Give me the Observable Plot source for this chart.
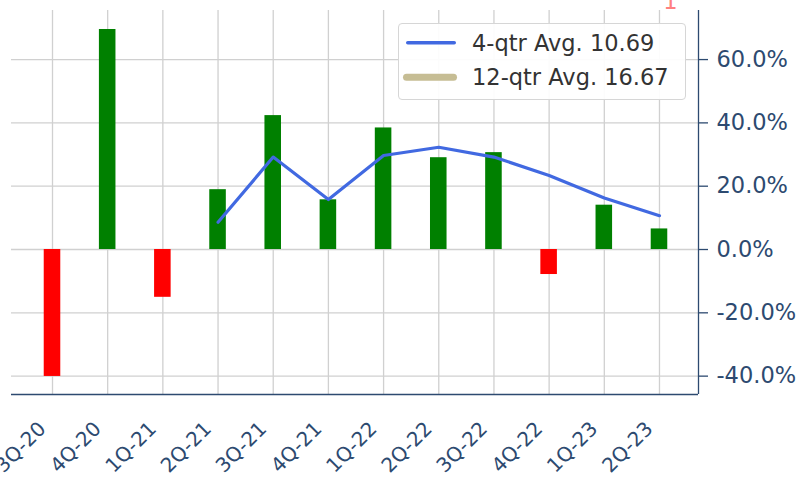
<!DOCTYPE html>
<html>
<head>
<meta charset="utf-8">
<script src="https://cdn.jsdelivr.net/npm/d3@7"></script>
<script src="https://cdn.jsdelivr.net/npm/@observablehq/plot@0.6"></script>
<style>
  html, body { margin: 0; padding: 0; background: #fff; }
  #wrap { position: relative; width: 798px; height: 479px; overflow: hidden; font-family: "DejaVu Sans", sans-serif; }
  #legend { position: absolute; left: 398px; top: 23px; width: 288px; height: 77px; background: rgba(255,255,255,0.92);
            border: 1px solid #d6d6d6; border-radius: 4px; box-sizing: border-box; }
  #legend svg { position: absolute; left: 0; top: 0; }
  .lg-text { position: absolute; left: 73px; font-size: 22.5px; line-height: 26px; color: #333; white-space: nowrap; }
</style>
</head>
<body>
<div id="wrap">
  <div id="chart"></div>
  <div id="legend">
    <svg width="70" height="75">
      <line x1="8.75" x2="55.25" y1="18.7" y2="18.7" stroke="#4169e1" stroke-width="3.5" stroke-linecap="round"/>
      <line x1="7.5" x2="54.5" y1="53.3" y2="53.3" stroke="#c6bd94" stroke-width="7" stroke-linecap="round"/>
    </svg>
    <div class="lg-text" style="top:5.7px">4-qtr Avg. 10.69</div>
    <div class="lg-text" style="top:40.3px">12-qtr Avg. 16.67</div>
  </div>
</div>
<script>
const quarters = ["3Q-20","4Q-20","1Q-21","2Q-21","3Q-21","4Q-21","1Q-22","2Q-22","3Q-22","4Q-22","1Q-23","2Q-23"];
const growth = [-40.1, 69.5, -15.1, 18.9, 42.3, 15.7, 38.4, 29.0, 30.6, -7.9, 14.0, 6.5];
const avg4 = [null, null, null, 8.6, 29.2, 15.8, 29.7, 32.3, 29.2, 23.4, 16.3, 10.69];
const yTicks = [-40, -20, 0, 20, 40, 60];

const bars = quarters.map((q, i) => ({i, q, v: growth[i], c: growth[i] >= 0 ? "#008000" : "#ff0000"}));
const line = quarters.map((q, i) => ({i, v: avg4[i]})).filter(d => d.v != null);

const xDomain = [-0.743, 11.707];
const yDomain = [-45.8, 75.5];
const axisColor = "#2d4a70";

const chart = Plot.plot({
  width: 798,
  height: 479,
  marginLeft: 11,
  marginRight: 100,
  marginTop: 10,
  marginBottom: 85,
  style: {fontFamily: "DejaVu Sans", background: "transparent", overflow: "visible"},
  x: {type: "linear", domain: xDomain, axis: null},
  y: {domain: yDomain, axis: null},
  color: {type: "identity"},
  marks: [
    Plot.gridX(d3.range(quarters.length), {stroke: "#d0d0d0", strokeOpacity: 1, strokeWidth: 1.3}),
    Plot.gridY(yTicks, {stroke: "#d0d0d0", strokeOpacity: 1, strokeWidth: 1.3}),
    Plot.rectY(bars, {x1: d => d.i - 0.15, x2: d => d.i + 0.15, y1: 0, y2: "v", fill: "c"}),
    Plot.line(line, {x: "i", y: "v", stroke: "#4169e1", strokeWidth: 3.2}),
    Plot.ruleY([yDomain[0]], {stroke: axisColor, strokeWidth: 1.3}),
    Plot.ruleX([xDomain[1]], {stroke: axisColor, strokeWidth: 1.3}),
    Plot.axisY(yTicks, {anchor: "right", tickFormat: d => d.toFixed(1) + "%", tickSize: 9, tickPadding: 9,
      fontSize: 22.5, color: axisColor, stroke: axisColor, strokeWidth: 1.3, label: null}),
    Plot.axisX(d3.range(quarters.length), {anchor: "bottom", tickFormat: i => quarters[i], tickSize: 0, tickRotate: -45,
      tickPadding: 31, dx: -10, fontSize: 20, color: axisColor, label: null}),
    Plot.text(["1"], {x: () => quarters.length - 1, frameAnchor: "top", dx: 11, dy: -2, lineAnchor: "bottom",
      text: d => d, fontSize: 22.5, fill: "#ff8080"})
  ]
});
document.getElementById("chart").appendChild(chart);
</script>
</body>
</html>
